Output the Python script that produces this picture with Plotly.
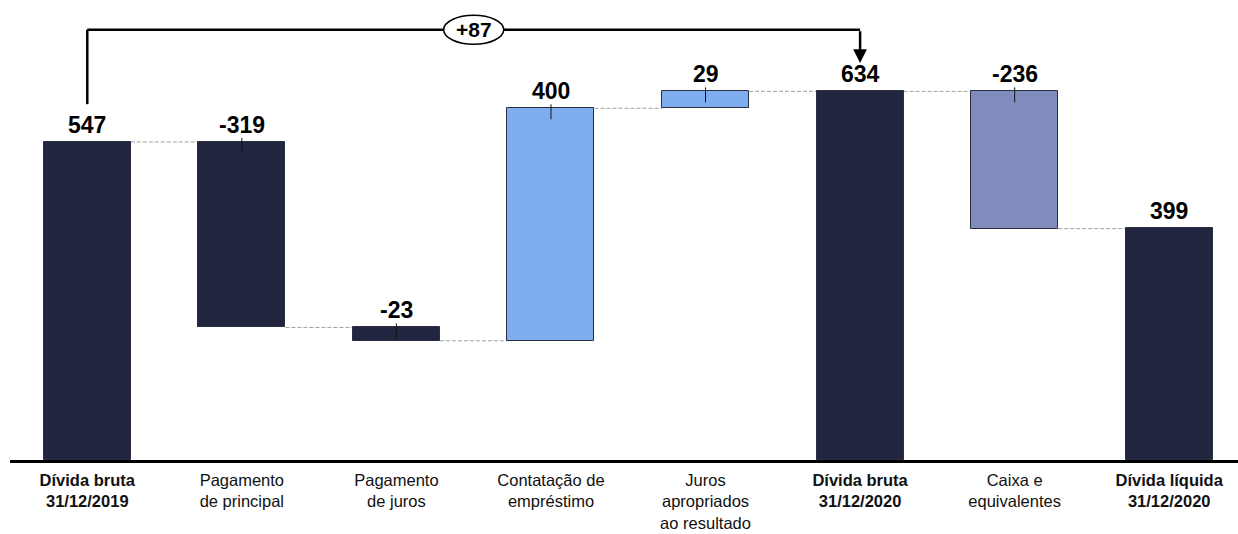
import plotly.graph_objects as go

# ---- data ----
categories = [
    "<b>Dívida bruta</b><br><b>31/12/2019</b>",
    "Pagamento<br>de principal",
    "Pagamento<br>de juros",
    "Contatação de<br>empréstimo",
    "Juros<br>apropriados<br>ao resultado",
    "<b>Dívida bruta</b><br><b>31/12/2020</b>",
    "Caixa e<br>equivalentes",
    "<b>Dívida líquida</b><br><b>31/12/2020</b>",
]
values = [547, -319, -23, 400, 29, 634, -236, 399]
measures = ["total", "delta", "delta", "delta", "delta", "total", "delta", "total"]
bar_colors = ["#21253f", "#21253f", "#21253f", "#7eaeee", "#7eaeee", "#21253f", "#808dbc", "#21253f"]
value_labels = ["547", "-319", "-23", "400", "29", "634", "-236", "399"]

# ---- compute bar bases/heights ----
bases, heights, tops, levels = [], [], [], []
level = 0
for v, m in zip(values, measures):
    if m == "total":
        b, h = 0, v
        level = v
    else:
        new = level + v
        b, h = min(level, new), abs(v)
        level = new
    bases.append(b)
    heights.append(h)
    tops.append(b + h)
    levels.append(level)

x = list(range(len(values)))
BW = 0.563
FONT = "Arial, Liberation Sans, sans-serif"

fig = go.Figure()
fig.add_trace(go.Bar(
    x=x, y=heights, base=bases, width=BW,
    marker=dict(color=bar_colors, line=dict(color="#2a2e40", width=1)),
    hoverinfo="skip", showlegend=False,
))

shapes = []
# connectors
for i in range(len(values) - 1):
    lv = levels[i]
    shapes.append(dict(type="line", xref="x", yref="y",
                       x0=i + BW / 2, x1=i + 1 - BW / 2, y0=lv, y1=lv,
                       line=dict(color="#a0a0a0", width=1, dash="4px,2px"), layer="below"))
# small ticks on delta bars
for i, m in enumerate(measures):
    if m == "delta":
        shapes.append(dict(type="line", xref="x", yref="y", ysizemode="pixel",
                           yanchor=tops[i], x0=i, x1=i, y0=4, y1=-11,
                           line=dict(color="#111111", width=1)))

annotations = []
for i in range(len(values)):
    annotations.append(dict(x=i, y=tops[i], xref="x", yref="y", text=f"<b>{value_labels[i]}</b>",
                            showarrow=False, yanchor="bottom", yshift=2,
                            font=dict(family=FONT, size=23, color="#000000")))

# bracket showing change between the two gross-debt totals
i0, i1 = 0, 5
diff = values[i1] - values[i0]
y_start = 612
y_top = 740
y_tip = 683
shapes.append(dict(type="line", xref="x", yref="y", x0=i0, x1=i0, y0=y_start, y1=y_top,
                   line=dict(color="#000000", width=2.5)))
shapes.append(dict(type="line", xref="x", yref="y", x0=i0, x1=i1, y0=y_top, y1=y_top,
                   line=dict(color="#000000", width=2.5)))
xm = (i0 + i1) / 2
shapes.append(dict(type="circle", xref="x", yref="y", xsizemode="pixel", ysizemode="pixel",
                   xanchor=xm, yanchor=y_top, x0=-30, x1=30, y0=-14.5, y1=14.5,
                   fillcolor="white", line=dict(color="#000000", width=1.5)))
annotations.append(dict(x=xm, y=y_top, xref="x", yref="y", text=f"<b>+{diff}</b>",
                        showarrow=False, font=dict(family=FONT, size=21, color="#000000")))
annotations.append(dict(x=i1, y=y_tip, xref="x", yref="y", ax=i1, ay=y_top,
                        axref="x", ayref="y", text="", showarrow=True,
                        arrowhead=2, arrowsize=1.1, arrowwidth=2.5, arrowcolor="#000000"))

fig.update_layout(
    width=1238, height=534,
    margin=dict(l=10, r=0, t=0, b=74),
    plot_bgcolor="white", paper_bgcolor="white",
    bargap=0,
    shapes=shapes, annotations=annotations,
    xaxis=dict(range=[-0.5, 7.445], tickvals=x, ticktext=categories,
               showline=True, linecolor="#000000", linewidth=3, showgrid=False,
               zeroline=False, ticks="", ticklabelstandoff=3,
               tickfont=dict(family=FONT, size=16.5, color="#111111")),
    yaxis=dict(range=[0, 791.2], visible=False, showgrid=False, zeroline=False),
)

fig.write_html("out.html")
